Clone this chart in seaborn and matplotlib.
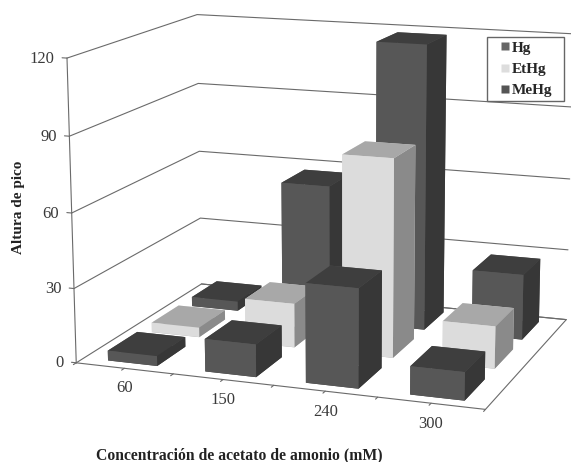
import matplotlib
matplotlib.use("Agg")
import matplotlib.pyplot as plt
from matplotlib.lines import Line2D
from mpl_toolkits.mplot3d import proj3d
import seaborn as sns

# Peak height for each mercury species at each ammonium acetate concentration
concentrations = ["60", "150", "240", "300"]
hg = [4, 57, 118, 27]
ethg = [4, 18, 80, 17]
mehg = [4, 13, 39, 11]
species = ["Hg", "EtHg", "MeHg"]
height_ticks = [0, 30, 60, 90, 120]

sns.set_theme(style="white")
plt.rcParams["font.family"] = ["Liberation Serif", "DejaVu Serif"]

# Face shades per species, in bar3d order: bottom, top, front, back, left, right
dark = ["#3c3c3c", "#3e3e3e", "#575757", "#575757", "#575757", "#373737"]
light = ["#a8a8a8", "#a8a8a8", "#dcdcdc", "#dcdcdc", "#dcdcdc", "#8a8a8a"]
legend_colors = sns.color_palette(["#666666", "#dddddd", "#555555"])

W, H = 571, 462
fig = plt.figure(figsize=(W / 100, H / 100), dpi=100, facecolor="white")
ax = fig.add_axes([129.32 / W, 66.75 / H, 389.17 / W, 389.17 / H], projection="3d")
ax.computed_zorder = False
ax.set_xlim(0, 4, view_margin=0)
ax.set_ylim(0, 3, view_margin=0)
ax.set_zlim(0, 120, view_margin=0)
ax.view_init(elev=13.04, azim=-69.91, roll=0.11)
ax.set_box_aspect((1, 0.74, 0.726), zoom=1.498)
ax.set_axis_off()

line = dict(color="#6a6a6a", lw=0.8, zorder=1, clip_on=False)


def label_at(x, y, z, text, **kwargs):
    """Place flat text at the screen position of a data point."""
    vx, vy, _ = proj3d.proj_transform(x, y, z, ax.get_proj())
    ax.text2D(vx, vy, text, transform=ax.transData, clip_on=False,
              color="#3a3a3a", fontsize=12, va="center", **kwargs)


# Walls and floor
for z in height_ticks:
    ax.plot([0, 0, 4], [0, 3, 3], [z, z, z], **line)
ax.plot([0, 4, 4, 0], [0, 0, 3, 3], [0, 0, 0, 0], **line)
ax.plot([0, 0], [0, 0], [0, 120], **line)

# Tick marks and tick labels
for z in height_ticks:
    ax.plot([0, -0.05], [0, 0], [z, z], **line)
    label_at(-0.13, 0, z - 0.8, str(z), ha="right")
for k in range(9):
    ax.plot([k / 2, k / 2], [0, -0.06], [0, 0], **line)
for i, label in enumerate(concentrations):
    label_at(i + 0.5, 0, -8, label, ha="center")

# Bars from the back row forward so nearer ones cover farther ones
rows = [(2, hg, dark), (1, ethg, light), (0, mehg, dark)]
order = 10
for row, values, faces in rows:
    for i, value in enumerate(values):
        bar = ax.bar3d(i + 0.25, row + 0.17, 0, 0.51, 0.66, value, color=faces,
                       shade=False, zorder=order, linewidth=0)
        bar.set_clip_on(False)
        order += 1

fig.text(19 / W, 1 - 207 / H, "Altura de pico", rotation=90, ha="center", va="center",
         fontsize=11, fontweight="bold", color="#222222")
fig.text(239.5 / W, 1 - 455 / H, "Concentración de acetato de amonio (mM)", ha="center",
         va="center", fontsize=11.3, fontweight="bold", color="#222222")

handles = [Line2D([], [], marker="s", ls="none", ms=6, mfc=c, mec="none") for c in legend_colors]
fig.legend(handles, species, loc="upper left",
           bbox_to_anchor=(487 / W, 1 - 98 / H, 77 / W, 61 / H), mode="expand",
           bbox_transform=fig.transFigure, fancybox=False, framealpha=1,
           edgecolor="#666666", prop={"weight": "bold", "size": 11},
           handlelength=1.8, handletextpad=-0.45, labelspacing=0.5,
           borderpad=0.25, borderaxespad=0)

fig.savefig("out.png", dpi=100)
